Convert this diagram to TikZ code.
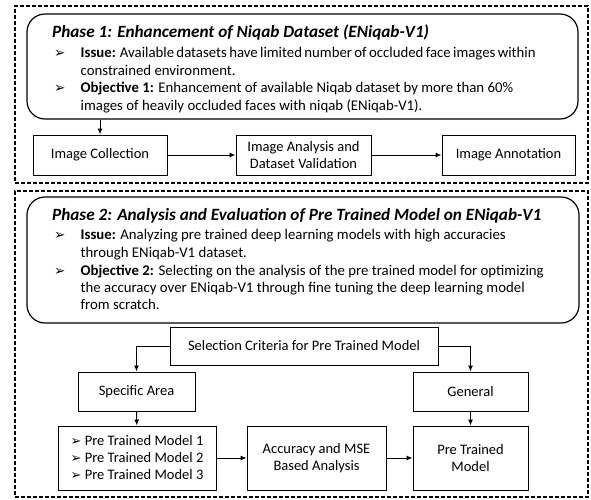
\documentclass[tikz,border=0pt]{standalone}
\usepackage{fontspec}
\setmainfont{Carlito}
\newfontfamily\dv{DejaVu Sans}
\usetikzlibrary{arrows.meta}
\begin{document}
\begin{tikzpicture}[x=1pt,y=-1pt,
  phase/.style={draw, line width=1.8pt, dash pattern=on 4pt off 2pt, inner sep=0pt},
  rbox/.style={draw, line width=1.2pt, rounded corners=18pt, inner sep=0pt},
  box/.style={draw, line width=1pt, align=center, inner sep=0pt, font=\fontsize{14.5}{17}\selectfont},
  arr/.style={-{Latex[length=6pt,width=5pt]}, line width=1pt},
  txt/.style={anchor=base west, inner sep=0pt, font=\fontsize{14.8}{17.5}\selectfont},
  ttl/.style={anchor=base west, inner sep=0pt, font=\fontsize{17.2}{18}\selectfont\bfseries\itshape},
  bul/.style={anchor=base west, inner sep=0pt, font=\dv\fontsize{13.5}{14}\selectfont}]
\useasboundingbox (0,0) rectangle (591,499);
\newcommand{\bl}{{\dv\fontsize{13}{13}\selectfont ➢}}
% Phase 1
\node[phase, minimum width=573pt, minimum height=177pt] (ph1) at (301.5,94.5) {};
\node[rbox, minimum width=551pt, minimum height=105pt] (p1) at (302.5,66.5) {};
\node[ttl] (t1) at (52,37) {Phase 1: Enhancement of Niqab Dataset (ENiqab-V1)};
\node[bul] (b11) at (54,57.5) {➢};
\node[txt] (l11) at (80.5,57.5) {\makebox[455pt][s]{\textbf{Issue:} Available datasets have limited number of occluded face images within}};
\node[txt] (l12) at (80.5,75) {constrained environment.};
\node[bul] (b12) at (54,92.5) {➢};
\node[txt] (l13) at (80.5,92.5) {\makebox[432.5pt][s]{\textbf{Objective 1:} Enhancement of available Niqab dataset by more than 60\%}};
\node[txt] (l14) at (80.5,110) {images of heavily occluded faces with niqab (ENiqab-V1).};
\node[box, minimum width=134pt, minimum height=40pt] (ic) at (100,155) {Image Collection};
\node[box, minimum width=135pt, minimum height=40pt] (ia) at (303.5,155) {Image Analysis and\\Dataset Validation};
\node[box, minimum width=133pt, minimum height=40pt] (ian) at (508.5,155) {Image Annotation};
\draw[arr] (ic.north |- p1.south) -- (ic.north);
\draw[arr] (ic) -- (ia);
\draw[arr] (ia) -- (ian);
% Phase 2
\node[phase, minimum width=573pt, minimum height=306pt] (ph2) at (301.5,344) {};
\node[rbox, minimum width=552pt, minimum height=126pt] (p2) at (303,260) {};
\node[ttl] (t2) at (52,220) {Phase 2: Analysis and Evaluation of Pre Trained Model on ENiqab-V1};
\node[bul] (b21) at (54,239) {➢};
\node[txt] (l21) at (80.5,239) {\makebox[425pt][s]{\textbf{Issue:} Analyzing pre trained deep learning models with high accuracies}};
\node[txt] (l22) at (80.5,257) {through ENiqab-V1 dataset.};
\node[bul] (b22) at (54,275) {➢};
\node[txt] (l23) at (80.5,275) {\makebox[463pt][s]{\textbf{Objective 2:} Selecting on the analysis of the pre trained model for optimizing}};
\node[txt] (l24) at (80.5,292) {\makebox[444pt][s]{the accuracy over ENiqab-V1 through fine tuning the deep learning model}};
\node[txt] (l25) at (80.5,309) {from scratch.};
\node[box, minimum width=268pt, minimum height=38pt] (sel) at (304,346) {Selection Criteria for Pre Trained Model};
\node[box, minimum width=117pt, minimum height=39pt] (spec) at (136.5,391.5) {Specific Area};
\node[box, minimum width=115pt, minimum height=39pt] (gen) at (470.5,391.5) {General};
\node[box, minimum width=158pt, minimum height=64pt, align=left] (lst) at (137,458) {\bl\ Pre Trained Model 1\\\bl\ Pre Trained Model 2\\\bl\ Pre Trained Model 3};
\node[box, minimum width=139pt, minimum height=64pt] (acc) at (316.5,458) {Accuracy and MSE\\Based Analysis};
\node[box, minimum width=115pt, minimum height=64pt] (ptm) at (470.5,458) {Pre Trained\\Model};
\draw[arr] (sel.west) -| (spec.north);
\draw[arr] (sel.east) -| (gen.north);
\draw[arr] (spec) -- (lst);
\draw[arr] (gen) -- (ptm);
\draw[arr] (lst) -- (acc);
\draw[arr] (acc) -- (ptm);
\end{tikzpicture}
\end{document}
